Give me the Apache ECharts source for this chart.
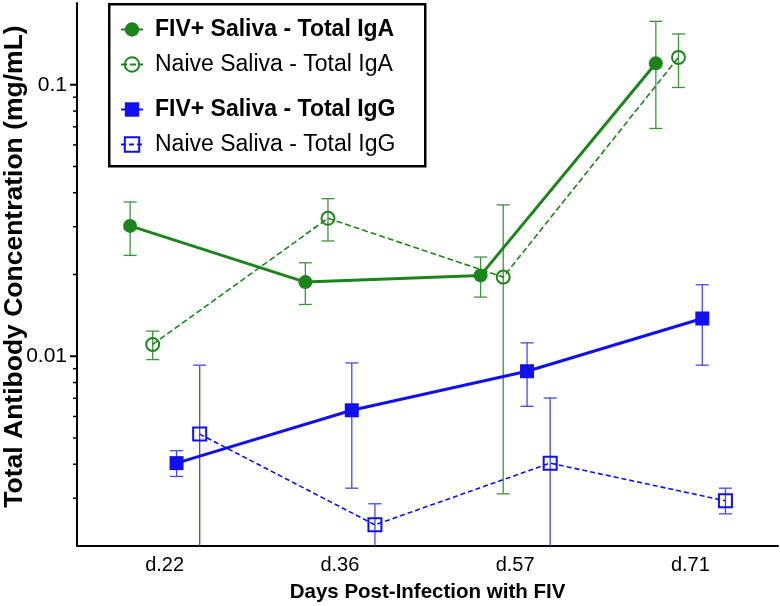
<!DOCTYPE html>
<html>
<head>
<meta charset="utf-8">
<script src="https://cdn.jsdelivr.net/npm/echarts@6/dist/echarts.min.js"></script>
<style>
html,body{margin:0;padding:0;background:#fff;}
#chart{width:780px;height:606px;}
</style>
</head>
<body>
<div id="chart"></div>
<script>
// ---- data ----
const categories = ['d.22', 'd.36', 'd.57', 'd.71'];

const fivIgA      = [0.0302, 0.01875, 0.01985, 0.1199];
const fivIgALow   = [0.02352, 0.01551, 0.01651, 0.0690];
const fivIgAHigh  = [0.0370, 0.02209, 0.02319, 0.1712];

const naiveIgA     = [0.01105, 0.03222, 0.01956, 0.1261];
const naiveIgALow  = [0.00972, 0.02657, 0.003113, 0.0977];
const naiveIgAHigh = [0.01237, 0.03805, 0.0361, 0.1538];

const fivIgG      = [0.004039, 0.006322, 0.008804, 0.01377];
const fivIgGLow   = [0.003607, 0.003266, 0.006538, 0.00927];
const fivIgGHigh  = [0.004487, 0.009447, 0.01120, 0.01833];

const naiveIgG     = [0.005167, 0.002393, 0.004039, 0.002934];
const naiveIgGLow  = [0.001, 0.001, 0.001, 0.002627];   // extends below the axis floor
const naiveIgGHigh = [0.00927, 0.002861, 0.007017, 0.003266];

const yMajorTicks = [0.01, 0.1];
const yMinorTicks = [0.003, 0.004, 0.005, 0.006, 0.007, 0.008, 0.009,
                     0.02, 0.03, 0.04, 0.05, 0.06, 0.07, 0.08, 0.09];

const seriesNames = ['FIV+ Saliva - Total IgA', 'Naive Saliva - Total IgA',
                     'FIV+ Saliva - Total IgG', 'Naive Saliva - Total IgG'];

// ---- styling ----
const GREEN = '#1b851b';
const BLUE = '#1010f0';
const GREEN_ERR = '#3a963a';
const BLUE_ERR = '#4848ea';
const FONT = '"Liberation Sans", Arial, Helvetica, sans-serif';
const offsets = [-0.197, -0.068, 0.068, 0.2]; // horizontal dodge (category units)

function pts(vals, off) { return vals.map((v, i) => [i + off, v]); }
function errPts(lo, hi, off) { return lo.map((l, i) => [i + off, l, hi[i]]); }

function renderErr(color) {
  return function (params, api) {
    const x = api.value(0);
    const top = api.coord([x, api.value(2)]);
    const bot = api.coord([x, api.value(1)]);
    const cs = params.coordSys;
    const floor = cs.y + cs.height;
    const clipped = bot[1] > floor;
    const by = clipped ? floor : bot[1];
    const hw = 6.5;
    const style = { stroke: color, lineWidth: 1.3, fill: null };
    const children = [
      { type: 'line', shape: { x1: top[0], y1: top[1], x2: top[0], y2: by }, style },
      { type: 'line', shape: { x1: top[0] - hw, y1: top[1], x2: top[0] + hw, y2: top[1] }, style }
    ];
    if (!clipped) {
      children.push({ type: 'line', shape: { x1: bot[0] - hw, y1: by, x2: bot[0] + hw, y2: by }, style });
    }
    return { type: 'group', children };
  };
}

function renderTick(len, w) {
  return function (params, api) {
    const p = api.coord([-0.5, api.value(0)]);
    return { type: 'line', shape: { x1: p[0] - len, y1: p[1], x2: p[0], y2: p[1] },
             style: { stroke: '#000', lineWidth: w } };
  };
}

const chart = echarts.init(document.getElementById('chart'), null, { renderer: 'canvas' });

const legendText = { color: '#000', fontSize: 23, lineHeight: 24, fontFamily: FONT, padding: [0, 0, 0, 7] };

const option = {
  backgroundColor: '#fff',
  animation: false,
  textStyle: { fontFamily: FONT },
  grid: { left: 77, right: 2, top: 3, bottom: 60, containLabel: false, outerBoundsMode: 'none' },
  xAxis: [
    {
      type: 'category', data: categories, boundaryGap: true,
      axisLine: { lineStyle: { color: '#000', width: 2 } },
      axisTick: { alignWithLabel: true, length: 6, lineStyle: { color: '#000', width: 2 } },
      axisLabel: { color: '#000', fontSize: 20, margin: 9, fontFamily: FONT },
      splitLine: { show: false },
      name: 'Days Post-Infection with FIV', nameLocation: 'middle', nameGap: 36, nameMoveOverlap: false,
      nameTextStyle: { color: '#000', fontSize: 20.5, fontWeight: 'bold', fontFamily: FONT }
    },
    { type: 'value', min: -0.5, max: 3.5, show: false }
  ],
  yAxis: {
    type: 'log', logBase: 10, min: 0.002, max: 0.2,
    axisLine: { show: true, onZero: false, lineStyle: { color: '#000', width: 2 } },
    axisTick: { show: false },
    axisLabel: { color: '#000', fontSize: 21, margin: 10, showMinLabel: false, showMaxLabel: false, fontFamily: FONT },
    splitLine: { show: false },
    name: 'Total Antibody Concentration (mg/mL)', nameLocation: 'middle', nameGap: 49, nameMoveOverlap: false,
    nameTextStyle: { color: '#000', fontSize: 26.5, fontWeight: 'bold', fontFamily: FONT, padding: [0, 0, 0, 16] }
  },
  legend: [
    {
      orient: 'vertical', left: 120, top: 17.5, padding: 0, itemGap: 11,
      itemWidth: 22, itemHeight: 18,
      textStyle: legendText,
      data: [
        { name: seriesNames[0], textStyle: { fontWeight: 'bold' } },
        { name: seriesNames[1] }
      ]
    },
    {
      orient: 'vertical', left: 120, top: 97.5, padding: 0, itemGap: 11,
      itemWidth: 22, itemHeight: 18,
      textStyle: legendText,
      data: [
        { name: seriesNames[2], textStyle: { fontWeight: 'bold' } },
        { name: seriesNames[3] }
      ]
    }
  ],
  graphic: [
    { type: 'rect', left: 108, top: 3, z: -1,
      shape: { width: 316, height: 162 },
      style: { fill: '#fff', stroke: '#000', lineWidth: 2.5 } }
  ],
  series: [
    // error bars
    { type: 'custom', xAxisIndex: 1, z: 1, silent: true, renderItem: renderErr(GREEN_ERR),
      data: errPts(fivIgALow, fivIgAHigh, offsets[0]) },
    { type: 'custom', xAxisIndex: 1, z: 1, silent: true, renderItem: renderErr(GREEN_ERR),
      data: errPts(naiveIgALow, naiveIgAHigh, offsets[1]) },
    { type: 'custom', xAxisIndex: 1, z: 1, silent: true, renderItem: renderErr(BLUE_ERR),
      data: errPts(fivIgGLow, fivIgGHigh, offsets[2]) },
    { type: 'custom', xAxisIndex: 1, z: 1, silent: true, renderItem: renderErr(BLUE_ERR),
      data: errPts(naiveIgGLow, naiveIgGHigh, offsets[3]) },
    // y axis ticks
    { type: 'custom', xAxisIndex: 1, z: 3, silent: true, renderItem: renderTick(7, 2),
      data: yMajorTicks.map(v => [v]), encode: { y: 0 } },
    { type: 'custom', xAxisIndex: 1, z: 3, silent: true, renderItem: renderTick(4, 1.5),
      data: yMinorTicks.map(v => [v]), encode: { y: 0 } },
    // lines
    { name: seriesNames[0], type: 'line', xAxisIndex: 1, z: 2,
      data: pts(fivIgA, offsets[0]),
      symbol: 'circle', symbolSize: 14,
      itemStyle: { color: GREEN },
      lineStyle: { color: GREEN, width: 3 } },
    { name: seriesNames[1], type: 'line', xAxisIndex: 1, z: 2,
      data: pts(naiveIgA, offsets[1]),
      symbol: 'circle', symbolSize: 13,
      itemStyle: { color: 'rgba(255,255,255,0)', borderColor: GREEN, borderWidth: 2 },
      lineStyle: { color: GREEN, width: 1.6, type: [6, 3] } },
    { name: seriesNames[2], type: 'line', xAxisIndex: 1, z: 2,
      data: pts(fivIgG, offsets[2]),
      symbol: 'rect', symbolSize: 14,
      itemStyle: { color: BLUE },
      lineStyle: { color: BLUE, width: 3 } },
    { name: seriesNames[3], type: 'line', xAxisIndex: 1, z: 2,
      data: pts(naiveIgG, offsets[3]),
      symbol: 'rect', symbolSize: 13,
      itemStyle: { color: 'rgba(255,255,255,0)', borderColor: BLUE, borderWidth: 2 },
      lineStyle: { color: BLUE, width: 1.6, type: [5, 3] } }
  ]
};

chart.setOption(option);
</script>
</body>
</html>
